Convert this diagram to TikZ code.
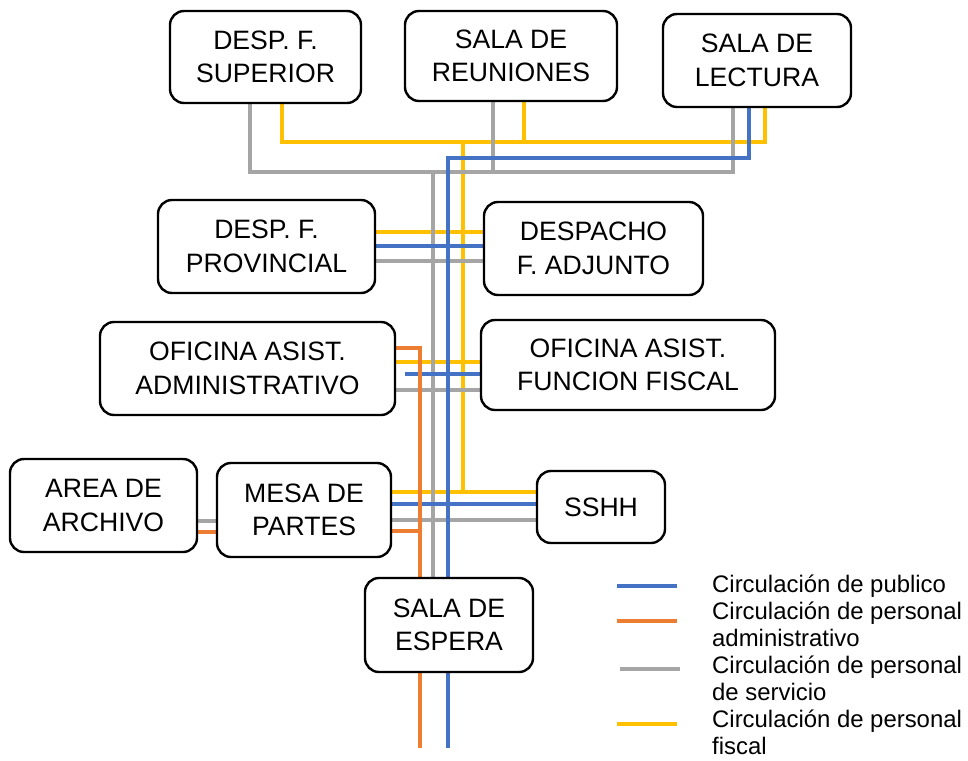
\documentclass[tikz,border=0pt]{standalone}
\usepackage{fontspec}
\setmainfont{Liberation Sans}
\usetikzlibrary{backgrounds}
\definecolor{cblue}{HTML}{4472C4}
\definecolor{corange}{HTML}{ED7D31}
\definecolor{cgray}{HTML}{A5A5A5}
\definecolor{cyellow}{HTML}{FFC000}
\begin{document}
\begin{tikzpicture}[x=1pt,y=-1pt,
  box/.style={draw=black, line width=2.4pt, rounded corners=14pt, fill=white, align=center,
    inner sep=0pt, outer sep=0pt, font=\fontsize{26.6}{33.5}\selectfont},
  pub/.style={cblue, line width=3.3pt},
  adm/.style={corange, line width=3.3pt},
  ser/.style={cgray, line width=3.3pt},
  fis/.style={cyellow, line width=3.3pt},
  legtext/.style={anchor=base west, inner sep=0pt, font=\fontsize{23.9}{27}\selectfont}]
\useasboundingbox (0,0) rectangle (968,760);

% boxes
\node[box, minimum width=191pt, minimum height=92pt] (sup) at (265.5,57) {DESP. F.\\SUPERIOR};
\node[box, minimum width=212pt, minimum height=90pt] (reu) at (511,56) {SALA DE\\REUNIONES};
\node[box, minimum width=188pt, minimum height=93pt] (lec) at (757,60.5) {SALA DE\\LECTURA};
\node[box, minimum width=217pt, minimum height=93pt] (prov) at (266.5,246.5) {DESP. F.\\PROVINCIAL};
\node[box, minimum width=219pt, minimum height=93pt] (adj) at (593.5,248.5) {DESPACHO\\F. ADJUNTO};
\node[box, minimum width=295pt, minimum height=93pt] (ofa) at (247.5,368.5) {OFICINA ASIST.\\ADMINISTRATIVO};
\node[box, minimum width=294pt, minimum height=90pt] (off) at (628,365) {OFICINA ASIST.\\FUNCION FISCAL};
\node[box, minimum width=187pt, minimum height=93pt] (arc) at (103.5,505.5) {AREA DE\\ARCHIVO};
\node[box, minimum width=174pt, minimum height=94pt] (mesa) at (304,510) {MESA DE\\PARTES};
\node[box, minimum width=128pt, minimum height=72pt] (sshh) at (601,507) {SSHH};
\node[box, minimum width=168pt, minimum height=94pt] (esp) at (449,625) {SALA DE\\ESPERA};

\coordinate (blueend) at (405,374);
\coordinate (orbot) at (420,748);
\coordinate (blbot) at (448,748);

\begin{pgfonlayer}{background}
% personal fiscal (yellow)
\draw[fis] (sup.south -| 282,0) -- (282,142) -- (765,142) -- (lec.south -| 765,0);
\draw[fis] (reu.south -| 524,0) -- (524,142);
\draw[fis] (463,142) -- (463,492);
\draw[fis] (prov.east |- 0,232) -- (adj.west |- 0,232);
\draw[fis] (ofa.east |- 0,362) -- (off.west |- 0,362);
\draw[fis] (mesa.east |- 0,492) -- (sshh.west |- 0,492);
% personal de servicio (gray)
\draw[ser] (sup.south -| 250,0) -- (250,172) -- (733,172) -- (lec.south -| 733,0);
\draw[ser] (reu.south -| 493,0) -- (493,172);
\draw[ser] (433,172) -- (esp.north -| 433,0);
\draw[ser] (prov.east |- 0,261) -- (adj.west |- 0,261);
\draw[ser] (ofa.east |- 0,390) -- (off.west |- 0,390);
\draw[ser] (mesa.east |- 0,520) -- (sshh.west |- 0,520);
\draw[ser] (arc.east |- 0,521) -- (mesa.west |- 0,521);
% publico (blue)
\draw[pub] (lec.south -| 749,0) -- (749,158) -- (448,158) -- (blbot);
\draw[pub] (prov.east |- 0,246) -- (adj.west |- 0,246);
\draw[pub] (blueend) -- (off.west |- blueend);
\draw[pub] (mesa.east |- 0,504) -- (sshh.west |- 0,504);
% personal administrativo (orange)
\draw[adm] (ofa.east |- 0,348) -- (420,348) -- (orbot);
\draw[adm] (mesa.east |- 0,531) -- (421.5,531);
\draw[adm] (arc.east |- 0,532) -- (mesa.west |- 0,532);
\end{pgfonlayer}

% legend
\coordinate (lb1) at (617,586); \coordinate (lb2) at (677,586);
\coordinate (lo1) at (617,621); \coordinate (lo2) at (677,621);
\coordinate (lg1) at (620,669); \coordinate (lg2) at (680,669);
\coordinate (ly1) at (617,724); \coordinate (ly2) at (677,724);
\draw[pub] (lb1) -- (lb2);
\draw[adm] (lo1) -- (lo2);
\draw[ser] (lg1) -- (lg2);
\draw[fis] (ly1) -- (ly2);
\node[legtext] (t1) at (712,592) {Circulación de publico};
\node[legtext] (t2) at (712,619) {Circulación de personal};
\node[legtext] (t3) at (712,646) {administrativo};
\node[legtext] (t4) at (712,673) {Circulación de personal};
\node[legtext] (t5) at (712,700) {de servicio};
\node[legtext] (t6) at (712,727) {Circulación de personal};
\node[legtext] (t7) at (712,754) {fiscal};
\end{tikzpicture}
\end{document}
